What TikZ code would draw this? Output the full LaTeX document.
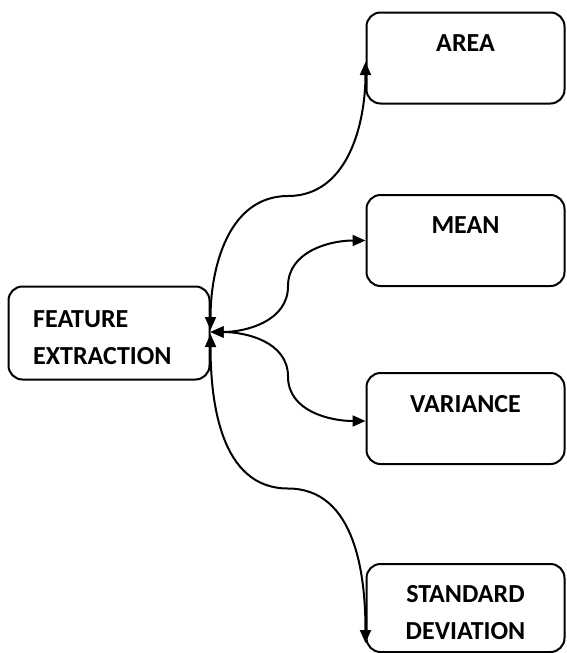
\documentclass[tikz,border=0pt]{standalone}
\usepackage{fontspec}
\setmainfont{Carlito}
\usetikzlibrary{arrows.meta,calc}
\begin{document}
\begin{tikzpicture}[x=1pt,y=-1pt,
  box/.style={draw=black,line width=2pt,rounded corners=14pt,minimum width=198pt,minimum height=91pt,inner sep=0pt},
  lbl/.style={font=\fontsize{26}{37}\selectfont\bfseries,inner sep=0pt,anchor=base},
  conn/.style={line width=2pt,{Triangle[length=13pt,width=11pt]}-{Triangle[length=13pt,width=11pt]}}]
\useasboundingbox (0,0) rectangle (566,653);
% boxes
\node[box,minimum width=201pt,minimum height=93pt] (fe) at (109,333) {};
\node[box] (area) at (465.5,58) {};
\node[box] (mean) at (465.5,240.5) {};
\node[box] (var) at (465.5,418.5) {};
\node[box,minimum height=88pt] (std) at (465.5,608) {};
% labels
\node[lbl,anchor=base west] (fet1) at (33,327) {FEATURE};
\node[lbl,anchor=base west] (fet2) at (33,364.5) {EXTRACTION};
\node[lbl] (areat) at ([yshift=-39.5pt]area.north) {AREA};
\node[lbl] (meant) at ([yshift=-39pt]mean.north) {MEAN};
\node[lbl] (vart) at ([yshift=-40pt]var.north) {VARIANCE};
\node[lbl] (stdt1) at ([yshift=-39pt]std.north) {STANDARD};
\node[lbl] (stdt2) at ([yshift=-76pt]std.north) {DEVIATION};
% connector ends
\coordinate (f1) at ([yshift=3pt]fe.east);
\coordinate (f2) at ([yshift=1pt]fe.east);
\coordinate (f3) at ([yshift=1pt]fe.east);
\coordinate (f4) at ([yshift=-1pt]fe.east);
\coordinate (a1) at ([yshift=-4pt]area.west);
\coordinate (b1) at (mean.west);
\coordinate (c1) at ([yshift=-2.5pt]var.west);
\coordinate (d1) at ([yshift=-35pt]std.west);
\coordinate (ma) at ($(f1)!0.5!(a1)$);
\coordinate (mb) at ($(f2)!0.5!(b1)$);
\coordinate (mc) at ($(f3)!0.5!(c1)$);
\coordinate (md) at ($(f4)!0.5!(d1)$);
% connectors
\draw[conn] (f1) to[out=90,in=180] (ma) to[out=0,in=-90] (a1);
\draw[conn] (f2) to[out=0,in=-90] (mb) to[out=90,in=180] (b1);
\draw[conn] (f3) to[out=0,in=90] (mc) to[out=-90,in=180] (c1);
\draw[conn] (f4) to[out=-90,in=180] (md) to[out=0,in=90] (d1);
\end{tikzpicture}
\end{document}
